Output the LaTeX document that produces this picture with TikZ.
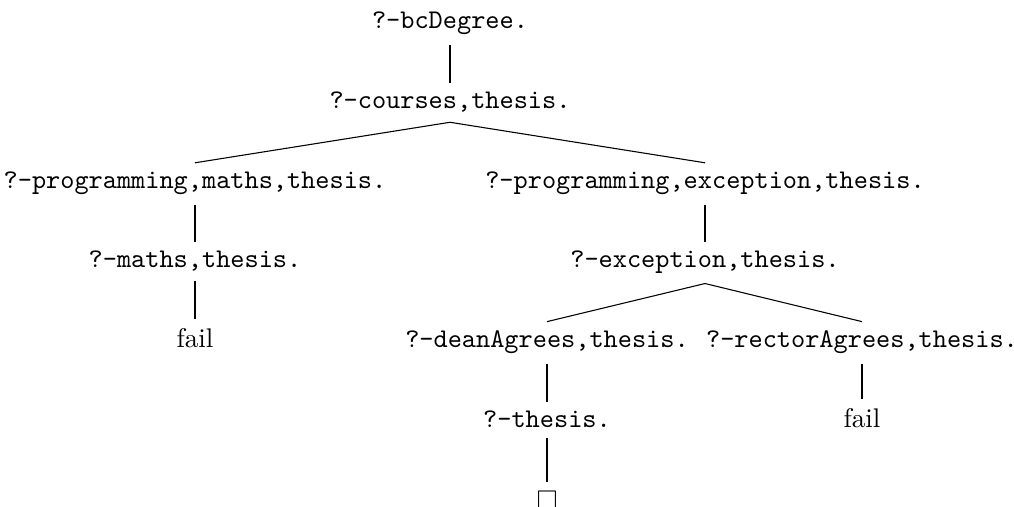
\documentclass[tikz,border=0pt]{standalone}
\usepackage{amssymb}
\begin{document}
\begin{tikzpicture}[x=0.3704pt,y=-0.3704pt,
  goal/.style={anchor=base,font=\ttfamily},
  leaf/.style={anchor=base},
  edge/.style={draw=black,line width=0.4pt}]
\useasboundingbox (0,0) rectangle (1014,507);
\node[goal] (n0) at (450,29) {?-bcDegree.};
\node[goal] (n1) at (450,109) {?-courses,thesis.};
\node[goal] (n2) at (195,189) {?-programming,maths,thesis.};
\node[goal] (n3) at (705,189) {?-programming,exception,thesis.};
\node[goal] (n4) at (195,268) {?-maths,thesis.};
\node[leaf] (n5) at (195,348) {fail};
\node[goal] (n6) at (705,268) {?-exception,thesis.};
\node[goal] (n7) at (547,348) {?-deanAgrees,thesis.};
\node[goal] (n8) at (862,348) {?-rectorAgrees,thesis.};
\node[leaf] (n9) at (862,428) {fail};
\node[goal] (n10) at (547,428) {?-thesis.};
\node[leaf] (n11) at (547,510) {$\Box$};
\draw[edge] (n0.south) -- (n1.north);
\draw[edge] (n1.south) -- (n2.north);
\draw[edge] (n1.south) -- (n3.north);
\draw[edge] (n2.south) -- (n4.north);
\draw[edge] (n4.south) -- (n5.north);
\draw[edge] (n3.south) -- (n6.north);
\draw[edge] (n6.south) -- (n7.north);
\draw[edge] (n6.south) -- (n8.north);
\draw[edge] (n8.south) -- (n9.north);
\draw[edge] (n7.south) -- (n10.north);
\draw[edge] (n10.south) -- (n11.north);
\end{tikzpicture}
\end{document}
